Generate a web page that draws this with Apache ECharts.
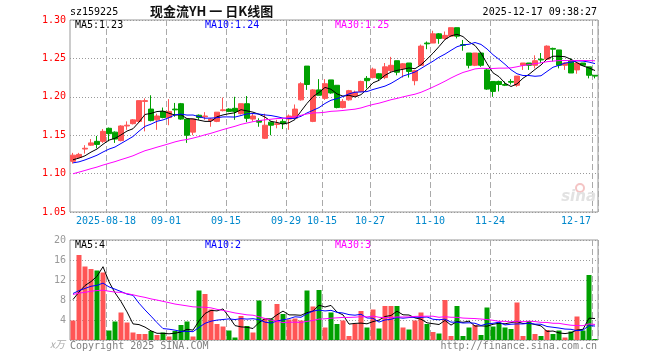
<!DOCTYPE html>
<html><head><meta charset="utf-8">
<script src="https://cdn.jsdelivr.net/npm/echarts@6/dist/echarts.min.js"></script>
<style>html,body{margin:0;padding:0;background:#fff}#c{width:660px;height:360px}</style>
</head><body><div id="c"></div><script>
// ---- data ----
const dates = [
'2025-08-08','2025-08-11','2025-08-12','2025-08-13','2025-08-14','2025-08-15','2025-08-18','2025-08-19','2025-08-20','2025-08-21','2025-08-22','2025-08-25','2025-08-26','2025-08-27','2025-08-28','2025-08-29',
'2025-09-01','2025-09-02','2025-09-03','2025-09-04','2025-09-05','2025-09-08','2025-09-09','2025-09-10','2025-09-11','2025-09-12','2025-09-15','2025-09-16','2025-09-17','2025-09-18','2025-09-19','2025-09-22','2025-09-23','2025-09-24','2025-09-25','2025-09-26','2025-09-29','2025-09-30',
'2025-10-09','2025-10-10','2025-10-13','2025-10-14','2025-10-15','2025-10-16','2025-10-17','2025-10-20','2025-10-21','2025-10-22','2025-10-23','2025-10-24','2025-10-27','2025-10-28','2025-10-29','2025-10-30','2025-10-31',
'2025-11-03','2025-11-04','2025-11-05','2025-11-06','2025-11-07','2025-11-10','2025-11-11','2025-11-12','2025-11-13','2025-11-14','2025-11-17','2025-11-18','2025-11-19','2025-11-20','2025-11-21','2025-11-24','2025-11-25','2025-11-26','2025-11-27','2025-11-28',
'2025-12-01','2025-12-02','2025-12-03','2025-12-04','2025-12-05','2025-12-08','2025-12-09','2025-12-10','2025-12-11','2025-12-12','2025-12-15','2025-12-16','2025-12-17'];

const opens = [1.116,1.121,1.132,1.137,1.142,1.142,1.159,1.154,1.143,1.162,1.165,1.168,1.194,1.184,1.170,1.181,
1.173,1.184,1.191,1.171,1.154,1.176,1.174,1.169,1.168,1.182,1.184,1.185,1.178,1.191,1.171,1.169,1.146,1.167,1.164,1.168,1.171,1.172,
1.196,1.240,1.168,1.209,1.198,1.222,1.215,1.186,1.196,1.201,1.207,1.224,1.225,1.230,1.225,1.234,1.247,
1.237,1.244,1.221,1.241,1.270,1.270,1.282,1.276,1.279,1.290,1.268,1.257,1.241,1.257,1.235,1.220,1.220,1.216,1.220,1.215,
1.241,1.244,1.241,1.249,1.249,1.263,1.261,1.241,1.247,1.235,1.244,1.239,1.228];
const closes = [1.124,1.125,1.133,1.140,1.138,1.155,1.152,1.145,1.162,1.163,1.170,1.195,1.195,1.169,1.175,1.173,
1.181,1.183,1.171,1.150,1.171,1.173,1.175,1.171,1.180,1.183,1.181,1.181,1.191,1.172,1.175,1.167,1.163,1.163,1.165,1.165,1.175,1.184,
1.217,1.216,1.209,1.202,1.217,1.205,1.186,1.194,1.208,1.206,1.220,1.221,1.236,1.224,1.239,1.241,1.232,
1.243,1.233,1.234,1.266,1.269,1.282,1.276,1.280,1.290,1.279,1.267,1.241,1.257,1.241,1.210,1.207,1.216,1.215,1.219,1.227,
1.244,1.241,1.247,1.248,1.266,1.262,1.241,1.244,1.231,1.244,1.241,1.228,1.227];
const lows = [1.113,1.120,1.126,1.136,1.133,1.140,1.142,1.140,1.142,1.157,1.164,1.166,1.155,1.168,1.157,1.172,
1.163,1.174,1.170,1.140,1.150,1.170,1.170,1.161,1.167,1.181,1.180,1.170,1.177,1.167,1.168,1.161,1.145,1.150,1.159,1.158,1.157,1.171,
1.195,1.209,1.167,1.202,1.196,1.204,1.185,1.185,1.195,1.200,1.206,1.211,1.224,1.221,1.223,1.231,1.228,
1.225,1.225,1.215,1.241,1.262,1.270,1.269,1.274,1.278,1.276,1.260,1.237,1.240,1.239,1.209,1.200,1.207,1.214,1.216,1.213,
1.235,1.235,1.237,1.244,1.248,1.246,1.237,1.235,1.231,1.230,1.240,1.224,1.224];
const highs = [1.127,1.127,1.137,1.145,1.149,1.158,1.160,1.155,1.163,1.168,1.171,1.195,1.198,1.202,1.178,1.186,
1.197,1.192,1.192,1.171,1.171,1.177,1.180,1.172,1.180,1.199,1.185,1.200,1.191,1.201,1.178,1.172,1.178,1.168,1.170,1.171,1.177,1.190,
1.219,1.240,1.210,1.223,1.223,1.222,1.215,1.197,1.209,1.208,1.221,1.227,1.238,1.231,1.244,1.252,1.247,
1.244,1.244,1.235,1.268,1.272,1.286,1.283,1.285,1.290,1.290,1.274,1.257,1.257,1.257,1.237,1.220,1.221,1.220,1.223,1.227,
1.244,1.244,1.254,1.257,1.267,1.264,1.261,1.245,1.250,1.244,1.244,1.239,1.228];
// volume, unit 万
const volumes = [3.9,17.0,14.7,14.2,13.9,13.5,1.9,3.7,5.5,3.5,1.5,1.2,1.2,1.8,1.0,1.5,
0.7,1.8,3.0,3.7,0.7,9.9,9.2,6.1,3.2,2.7,1.9,0.5,4.8,2.8,1.5,7.9,4.3,4.3,7.2,5.2,4.1,4.3,
3.9,9.9,6.7,10.0,2.5,5.5,3.2,3.9,0.8,3.2,5.8,2.5,6.1,2.3,6.8,6.8,6.8,
2.5,2.1,3.9,5.5,3.2,1.6,1.3,8.0,0.8,6.8,0.8,2.5,3.0,1.0,6.5,2.7,3.5,2.5,2.2,7.5,
0.8,3.8,1.2,0.8,2.0,1.2,1.9,0.5,1.7,4.7,1.9,13.0,0.2];
// sessions before the visible window, estimated from where the MA lines start
const priorCloses = [1.062,1.066,1.071,1.075,1.078,1.082,1.080,1.085,1.089,1.092,1.095,1.099,1.101,1.104,1.108,1.110,1.112,1.115,1.113,1.117,
1.112,1.108,1.110,1.107,1.113,1.114,1.118,1.116,1.118];
const priorVolumes = [8.5,10.2,7.8,9.6,11.3,8.1,9.0,7.4,10.5,8.8,9.7,8.2,10.9,7.9,9.3,8.6,10.1,8.4,9.2,6.5,
11.2,10.4,9.8,12.1,9.0,9.5,8.2,10.3,8.6];

const tickDates = ['2025-08-18','2025-09-01','2025-09-15','2025-09-29','2025-10-15','2025-10-27','2025-11-10','2025-11-24','2025-12-17'];
const tickLabels = ['2025-08-18','09-01','09-15','09-29','10-15','10-27','11-10','11-24','12-17'];
const priceHeader = ['MA5:1.23','MA10:1.24','MA30:1.25'];
const volHeader = ['MA5:4','MA10:2','MA30:3'];
const maPeriods = [5,10,30];

// ---- helpers ----
function movingAvg(all, n, offset, count) {
  const out = [];
  for (let i = 0; i < count; i++) {
    const end = i + offset;
    let s = 0;
    for (let k = end - n + 1; k <= end; k++) s += all[k];
    out.push(+(s / n).toFixed(4));
  }
  return out;
}
const N = dates.length;
const allC = priorCloses.concat(closes);
const allV = priorVolumes.concat(volumes);
const off = priorCloses.length;
const maColors = ['#000000', '#0000ff', '#ff00ff'];
const UP = '#ff5555', DOWN = '#00a000';
const MONO = 'DejaVu Sans Mono';

const chart = echarts.init(document.getElementById('c'), null, {renderer: 'canvas'});
const tickFn = (idx, val) => tickDates.indexOf(val) >= 0;

const xBase = {
  type: 'category', data: dates, boundaryGap: true,
  axisLine: {show: false}, axisTick: {show: false},
  splitLine: {show: true, interval: tickFn, lineStyle: {color: '#aaaaaa', type: [6, 3], width: 1}}
};

const series = [{
  type: 'candlestick', xAxisIndex: 0, yAxisIndex: 0, barWidth: 5,
  data: dates.map((d, i) => [opens[i], closes[i], lows[i], highs[i]]),
  itemStyle: {color: UP, color0: DOWN, borderColor: UP, borderColor0: DOWN, borderWidth: 1},
  z: 2
}];
maPeriods.forEach((p, k) => series.push({
  type: 'line', xAxisIndex: 0, yAxisIndex: 0, symbol: 'none', silent: true,
  data: movingAvg(allC, p, off, N), lineStyle: {color: maColors[k], width: 1}, z: 3
}));
series.push({
  type: 'bar', xAxisIndex: 1, yAxisIndex: 1, barWidth: 5,
  data: volumes.map((v, i) => ({value: v, itemStyle: {color: closes[i] >= opens[i] ? UP : DOWN}})),
  z: 2
});
maPeriods.forEach((p, k) => series.push({
  type: 'line', xAxisIndex: 1, yAxisIndex: 1, symbol: 'none', silent: true,
  data: movingAvg(allV, p, off, N), lineStyle: {color: maColors[k], width: 1}, z: 3
}));

const txt = (x, y, text, fill, extra) => ({type: 'text', x: x, y: y, z: 10, silent: true,
  style: Object.assign({text: text, fill: fill, font: '10px "' + MONO + '"', textVerticalAlign: 'top'}, extra || {})});

const graphics = [
  txt(70, 7, 'sz159225', '#000'),
  txt(150, 5, '现金流YH 一 日K线图', '#111', {font: 'bold 13px "Noto Sans CJK SC"'}),
  txt(597, 7, '2025-12-17 09:38:27', '#000', {textAlign: 'right'}),
  txt(75, 20, priceHeader[0], maColors[0]),
  txt(205, 20, priceHeader[1], maColors[1]),
  txt(335, 20, priceHeader[2], maColors[2]),
  txt(75, 240, volHeader[0], maColors[0]),
  txt(205, 240, volHeader[1], maColors[1]),
  txt(335, 240, volHeader[2], maColors[2]),
  txt(70, 341, 'Copyright 2025 SINA.COM', '#808080'),
  txt(597, 341, 'http://finance.sina.com.cn', '#808080', {textAlign: 'right'}),
  txt(65, 339, 'x万', '#aaaaaa', {textAlign: 'right', font: 'italic 10px "Noto Sans CJK SC"'}),
  {type: 'circle', z: 1, silent: true, shape: {cx: 580, cy: 188, r: 4}, style: {fill: 'none', stroke: '#f4c4c4', lineWidth: 2}},
  txt(596, 190, 'sina', '#e2e2e2', {textAlign: 'right', font: 'italic bold 15px "DejaVu Sans"'})
];

chart.setOption({
  animation: false,
  backgroundColor: '#ffffff',
  grid: [
    {left: 70, top: 20, width: 528, height: 192, show: true, borderColor: '#999999', borderWidth: 1, backgroundColor: 'transparent'},
    {left: 70, top: 240, width: 528, height: 100, show: true, borderColor: '#999999', borderWidth: 1, backgroundColor: 'transparent'}
  ],
  xAxis: [
    Object.assign({}, xBase, {gridIndex: 0,
      axisLabel: {show: true, interval: tickFn, margin: 4,
        formatter: (val) => {
          const k = tickDates.indexOf(val);
          return (k === tickDates.length - 1 ? '{e|' : '{n|') + tickLabels[k] + '}';
        },
        rich: {
          n: {fontFamily: MONO, fontSize: 10, color: '#0088cc', padding: [0, 6, 0, 0]},
          e: {fontFamily: MONO, fontSize: 10, color: '#0088cc', padding: [0, 38, 0, 0]}
        }
      }}),
    Object.assign({}, xBase, {gridIndex: 1, axisLabel: {show: false}})
  ],
  yAxis: [
    {gridIndex: 0, type: 'value', min: 1.05, max: 1.30, interval: 0.05, scale: true,
      axisLine: {show: false}, axisTick: {show: false},
      axisLabel: {color: '#ff0000', fontFamily: MONO, fontSize: 10, margin: 4, formatter: v => v.toFixed(2)},
      splitLine: {show: true, lineStyle: {color: '#999999', type: [1, 2], width: 1}}},
    {gridIndex: 1, type: 'value', min: 0, max: 20, interval: 4,
      axisLine: {show: false}, axisTick: {show: false},
      axisLabel: {color: '#999999', fontFamily: MONO, fontSize: 10, margin: 4, formatter: v => v === 0 ? '' : String(v)},
      splitLine: {show: true, lineStyle: {color: '#999999', type: [1, 2], width: 1}}}
  ],
  series: series,
  graphic: graphics
});
</script></body></html>
